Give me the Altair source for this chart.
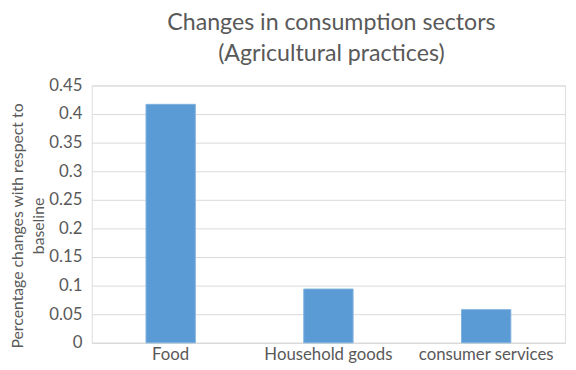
import altair as alt
import pandas as pd

categories = ["Food", "Household goods", "consumer services"]
values = [0.417, 0.094, 0.058]
y_ticks = [0, 0.05, 0.1, 0.15, 0.2, 0.25, 0.3, 0.35, 0.4, 0.45]

df = pd.DataFrame({"sector": categories, "value": values})

FONT = "Lato"
GRAY = "#595959"

chart = alt.Chart(df).mark_bar(color="#5B9BD5", stroke="#7FB0DD", strokeWidth=1).encode(
    x=alt.X("sector:N", sort=categories,
            scale=alt.Scale(paddingInner=0.6875, paddingOuter=0.34375),
            axis=alt.Axis(title=None, labelAngle=0, labelFontSize=17, labelColor=GRAY,
                          labelFont=FONT, ticks=False, domain=True, domainColor="#d9d9d9",
                          labelPadding=4, grid=False)),
    y=alt.Y("value:Q", scale=alt.Scale(domain=[0, 0.45], nice=False),
            axis=alt.Axis(values=y_ticks, format="~g", title=["Percentage changes with respect to", "baseline"],
                          titleFontSize=16, titleFont=FONT, titleColor=GRAY, titleFontWeight="normal",
                          titleLineHeight=21.5, titleBaseline="alphabetic", titleAlign="center",
                          titleAngle=270, titleX=-70, titleY=142,
                          labelFontSize=17, labelFont=FONT, labelColor=GRAY, labelPadding=10,
                          ticks=False, domain=False, gridColor="#d9d9d9")),
).properties(
    width=480, height=261,
    title=alt.TitleParams(["Changes in consumption sectors", "(Agricultural practices)"],
                          fontSize=23.5, font=FONT, color=GRAY, fontWeight="normal",
                          anchor="middle", lineHeight=31.5, offset=11, dx=3),
    autosize=alt.AutoSizeParams(type="none"),
    padding={"left": 85, "top": 76, "right": 3, "bottom": 25},
).configure_view(stroke=None).configure(background="white")

chart.save("out.html", embed_options={"renderer": "svg", "actions": False})
